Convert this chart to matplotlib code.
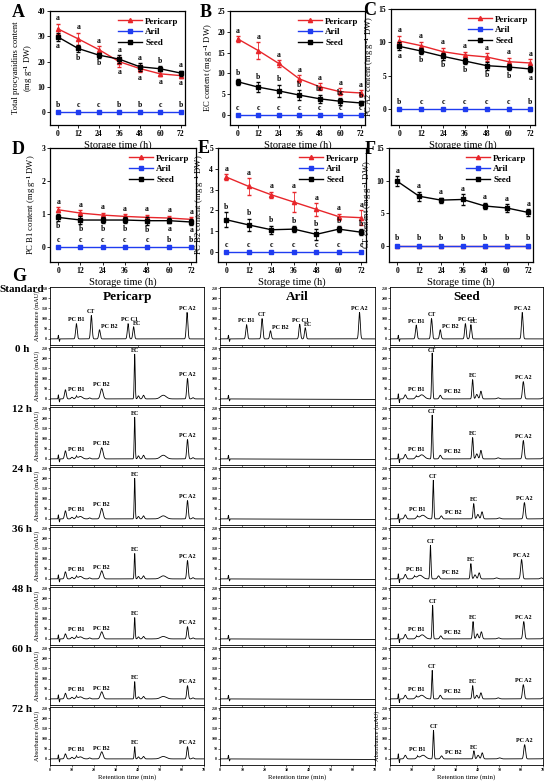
import numpy as np
import matplotlib
matplotlib.use('Agg')
import matplotlib.pyplot as plt

plt.rcParams['font.family'] = ['Liberation Serif', 'DejaVu Serif']
plt.rcParams['font.weight'] = 'bold'
plt.rcParams['mathtext.fontset'] = 'custom'
plt.rcParams['mathtext.rm'] = 'Liberation Serif:bold'
plt.rcParams['mathtext.it'] = 'Liberation Serif:italic:bold'
plt.rcParams['mathtext.bf'] = 'Liberation Serif:bold'

# ---------------- dati pannelli A-F ----------------
hours = [0, 12, 24, 36, 48, 60, 72]

tot_peri = [33.0, 29.0, 24.8, 20.0, 17.3, 15.2, 14.5]
tot_peri_err = [2.0, 2.5, 1.2, 2.0, 1.5, 1.0, 0.8]
tot_seed = [29.8, 25.2, 22.6, 21.0, 18.0, 17.2, 15.5]
tot_seed_err = [1.5, 1.5, 1.0, 1.5, 1.5, 1.0, 1.0]
tot_let_peri = ['a', 'a', 'a', 'a', 'a', 'a', 'a']
tot_let_seed = ['a', 'b', 'b', 'a', 'a', 'b', 'a']
tot_let_aril = ['b', 'c', 'c', 'b', 'b', 'c', 'b']

ec_peri = [18.3, 15.5, 12.4, 8.7, 6.8, 5.6, 5.3]
ec_peri_err = [0.7, 2.0, 0.8, 0.8, 0.8, 0.8, 0.7]
ec_seed = [8.0, 6.7, 5.8, 4.8, 3.9, 3.3, 2.9]
ec_seed_err = [0.7, 1.2, 1.5, 1.2, 1.0, 0.8, 0.5]
ec_let_peri = ['a'] * 7
ec_let_seed = ['b', 'b', 'b', 'b', 'bc', 'bc', 'b']
ec_let_aril = ['c'] * 7

a2_peri = [10.2, 9.5, 8.6, 8.1, 7.8, 7.1, 6.9]
a2_peri_err = [0.8, 0.6, 0.6, 0.5, 0.6, 0.6, 0.6]
a2_seed = [9.4, 8.7, 7.9, 7.2, 6.5, 6.3, 6.0]
a2_seed_err = [0.6, 0.5, 0.5, 0.5, 0.6, 0.5, 0.5]
a2_let_peri = ['a'] * 7
a2_let_seed = ['a', 'b', 'b', 'b', 'b', 'b', 'a']
a2_let_aril = ['b', 'c', 'c', 'c', 'c', 'c', 'b']

b1_peri = [1.13, 1.03, 0.97, 0.93, 0.90, 0.88, 0.84]
b1_peri_err = [0.07, 0.08, 0.07, 0.07, 0.08, 0.07, 0.06]
b1_seed = [0.90, 0.82, 0.82, 0.82, 0.80, 0.80, 0.76]
b1_seed_err = [0.10, 0.12, 0.10, 0.10, 0.12, 0.08, 0.08]
b1_let_peri = ['a'] * 7
b1_let_seed = ['b', 'b', 'b', 'b', 'b', 'a', 'a']
b1_let_aril = ['c', 'c', 'c', 'c', 'c', 'b', 'b']

b2_peri = [3.60, 3.15, 2.75, 2.40, 2.05, 1.70, 1.65]
b2_peri_err = [0.15, 0.40, 0.15, 0.50, 0.30, 0.15, 0.35]
b2_seed = [1.55, 1.30, 1.07, 1.10, 0.85, 1.10, 0.95]
b2_seed_err = [0.35, 0.30, 0.20, 0.15, 0.25, 0.15, 0.15]
b2_let_peri = ['a'] * 7
b2_let_seed = ['b'] * 7
b2_let_aril = ['c'] * 7

ct_peri = [0, 0, 0, 0, 0, 0, 0]
ct_peri_err = [0, 0, 0, 0, 0, 0, 0]
ct_seed = [9.9, 7.6, 7.0, 7.1, 6.1, 5.8, 5.1]
ct_seed_err = [0.8, 0.7, 0.4, 0.8, 0.5, 0.6, 0.5]
ct_let_peri = [''] * 7
ct_let_seed = ['a'] * 7
ct_let_aril = ['b'] * 7

aril_zero = [0, 0, 0, 0, 0, 0, 0]

# ---------------- dati cromatogrammi (G) ----------------
row_names = ['Standard', '0 h', '12 h', '24 h', '36 h', '48 h', '60 h', '72 h']

std_names = ['PC B1', 'CT', 'PC B2', 'PC C1', 'EC', 'PC A2']
std_peri_rt = [12.0, 18.8, 22.5, 35.5, 38.0, 62.3]
std_peri_h = [75, 115, 45, 75, 60, 130]
std_aril_rt = [12.0, 19.0, 22.8, 36.0, 38.5, 63.0]
std_aril_h = [70, 100, 40, 72, 55, 130]
std_seed_rt = [12.0, 19.0, 23.0, 34.5, 37.0, 60.5]
std_seed_h = [68, 100, 45, 75, 70, 130]

peri_rt = [3.8, 4.3, 7.0, 10.0, 12.0, 13.8, 18.0, 23.5, 38.5, 40.2, 42.5, 51.5, 62.5, 65.0]
peri_w = [0.12, 0.12, 0.4, 0.4, 0.4, 0.9, 0.4, 0.6, 0.22, 0.35, 0.4, 1.3, 0.35, 0.4]
peri_h_0 = [20, -15, 45, 8, 10, 12, 5, 50, 220, 15, 18, 18, 100, 6]
peri_h_12 = [20, -15, 40, 8, 10, 12, 5, 55, 205, 15, 18, 18, 95, 6]
peri_h_24 = [20, -15, 40, 8, 10, 12, 5, 52, 200, 12, 15, 15, 90, 6]
peri_h_36 = [20, -15, 35, 8, 10, 12, 5, 40, 125, 12, 15, 15, 90, 6]
peri_h_48 = [20, -15, 25, 8, 10, 10, 5, 35, 105, 10, 12, 12, 60, 5]
peri_h_60 = [20, -15, 28, 8, 10, 10, 5, 35, 85, 10, 12, 12, 65, 5]
peri_h_72 = [20, -15, 25, 8, 10, 10, 5, 35, 60, 10, 12, 12, 60, 5]
peri_lab = {'PC B1': 4, 'PC B2': 7, 'EC': 8, 'PC A2': 12}

aril_rt = [3.8, 4.3]
aril_w = [0.12, 0.12]
aril_h = [18, -10]

seed_rt = [3.8, 4.3, 7.0, 12.0, 14.5, 19.3, 23.0, 37.8, 39.7, 41.6, 49.5, 61.0, 70.0]
seed_w = [0.12, 0.12, 0.45, 0.5, 1.2, 0.25, 0.45, 0.3, 0.45, 0.4, 0.6, 0.4, 0.5]
seed_h_0 = [25, -18, 20, 10, 20, 225, 18, 95, 22, 38, 5, 85, 5]
seed_h_12 = [25, -18, 22, 10, 20, 215, 18, 105, 25, 42, 5, 90, 5]
seed_h_24 = [25, -18, 20, 10, 18, 190, 15, 75, 22, 35, 5, 80, 5]
seed_h_36 = [25, -18, 22, 10, 18, 165, 15, 75, 20, 30, 5, 95, 5]
seed_h_48 = [25, -18, 22, 10, 20, 165, 15, 85, 25, 35, 5, 85, 5]
seed_h_60 = [25, -18, 18, 10, 18, 140, 18, 65, 18, 30, 5, 70, 5]
seed_h_72 = [25, -18, 18, 10, 18, 140, 15, 40, 18, 30, 5, 70, 5]
seed_shift = [0.0, 0.0, 0.5, -0.8, 0.2, 0.0, 0.6]
seed_lab = {'PC B1': 3, 'CT': 5, 'PC B2': 6, 'EC': 7, 'PC A2': 11}

W, H = 550, 782
fig = plt.figure(figsize=(W / 100, H / 100), dpi=100)


def px_axes(l, t, r, b):
    return fig.add_axes([l / W, 1 - b / H, (r - l) / W, (b - t) / H])


# ---------------- pannelli A-F ----------------
# (lettera, pos. lettera px, box px, ylim, yticks, ylabel, dati..., lettere del seme sopra?)
pannelli = [
    ('A', (12, 4), (50, 11, 185, 125), (-5, 40), [0, 10, 20, 30, 40],
     'Total procyanidins content\n(mg g$^{-1}$ DW)',
     tot_peri, tot_peri_err, tot_seed, tot_seed_err, tot_let_peri, tot_let_seed, tot_let_aril, False),
    ('B', (200, 4), (230, 11, 365, 125), (-2.4, 25), [0, 5, 10, 15, 20, 25],
     'EC content (mg g$^{-1}$ DW)',
     ec_peri, ec_peri_err, ec_seed, ec_seed_err, ec_let_peri, ec_let_seed, ec_let_aril, True),
    ('C', (363, 2), (391, 9, 535, 125), (-2.4, 15), [0, 5, 10, 15],
     'PC A2 content (mg g$^{-1}$ DW)',
     a2_peri, a2_peri_err, a2_seed, a2_seed_err, a2_let_peri, a2_let_seed, a2_let_aril, False),
    ('D', (12, 141), (50, 148, 196, 262), (-0.45, 3), [0, 1, 2, 3],
     'PC B1 content (mg g$^{-1}$ DW)',
     b1_peri, b1_peri_err, b1_seed, b1_seed_err, b1_let_peri, b1_let_seed, b1_let_aril, False),
    ('E', (198, 140), (218, 148, 366, 262), (-0.48, 5), [0, 1, 2, 3, 4, 5],
     'PC B2 content (mg g$^{-1}$ DW)',
     b2_peri, b2_peri_err, b2_seed, b2_seed_err, b2_let_peri, b2_let_seed, b2_let_aril, True),
    ('F', (365, 141), (389, 148, 533, 262), (-2.5, 15), [0, 5, 10, 15],
     'CT content (mg g$^{-1}$ DW)',
     ct_peri, ct_peri_err, ct_seed, ct_seed_err, ct_let_peri, ct_let_seed, ct_let_aril, True),
]

RED = '#e8262b'
BLUE = '#1f3cf0'

for (lett, lpos, box, ylim, yt, ylab, pv, pe, sv, se, lp, ls, la, seed_up) in pannelli:
    ax = px_axes(*box)
    ax.errorbar(hours, pv, yerr=pe, fmt='none', ecolor=RED, elinewidth=0.6, capsize=1.5, zorder=3)
    ax.plot(hours, pv, color=RED, marker='^', ms=3, lw=1.0, label='Pericarp', zorder=3)
    ax.plot(hours, aril_zero, color=BLUE, marker='s', ms=2.3, lw=1.0, label='Aril', zorder=4)
    ax.errorbar(hours, sv, yerr=se, fmt='none', ecolor='black', elinewidth=0.6, capsize=1.5, zorder=5)
    ax.plot(hours, sv, color='black', marker='s', ms=2.3, lw=1.0, label='Seed', zorder=5)
    ax.set_xlim(-4.5, 74.5)
    ax.set_ylim(*ylim)
    ax.set_xticks(hours)
    ax.set_yticks(yt)
    ax.tick_params(labelsize=5.5, length=2, width=0.6, pad=1.5)
    for s in ax.spines.values():
        s.set_linewidth(0.9)
    span = ylim[1] - ylim[0]
    off = 0.012 * span
    for i, h in enumerate(hours):
        if seed_up:
            if lett != 'F':
                ax.text(h, pv[i] + pe[i] + off, lp[i], ha='center', va='bottom', fontsize=5.5)
            ax.text(h, sv[i] + se[i] + off, ls[i], ha='center', va='bottom', fontsize=5.5)
        elif sv[i] > pv[i]:
            # seme sopra il pericarpo: lettera del pericarpo sotto
            ax.text(h, sv[i] + se[i] + off, ls[i], ha='center', va='bottom', fontsize=5.5)
            ax.text(h, pv[i] - pe[i] - off, lp[i], ha='center', va='top', fontsize=5.5)
        else:
            ax.text(h, pv[i] + pe[i] + off, lp[i], ha='center', va='bottom', fontsize=5.5)
            ax.text(h, sv[i] - se[i] - off, ls[i], ha='center', va='top', fontsize=5.5)
        ax.text(h, 0.03 * span, la[i], ha='center', va='bottom', fontsize=5.5)
    ax.set_xlabel('Storage time (h)', fontsize=7.5, labelpad=2)
    ax.set_ylabel(ylab, fontsize=6.2, labelpad=2)
    ax.legend(loc='upper right', frameon=False, fontsize=6.5, handlelength=2.6,
              handletextpad=0.4, labelspacing=0.25, borderaxespad=0.3)
    fig.text(lpos[0] / W, 1 - lpos[1] / H, lett, fontsize=13,
             fontweight='bold', ha='left', va='top')

# ---------------- pannello G ----------------
fig.text(12 / W, 1 - 268 / H, 'G', fontsize=13, fontweight='bold', ha='left', va='top')

x = np.linspace(0, 70, 2000)


def traccia(rts, hs, ws, shift=0.0):
    y = np.zeros_like(x)
    for rt, h, w in zip(rts, hs, ws):
        c = rt + shift if rt > 10 else rt
        y += h * np.exp(-0.5 * ((x - c) / w) ** 2)
    return y


col_box = [(50, 204), (220, 375), (390, 543)]
col_title = ['Pericarp', 'Aril', 'Seed']
std_data = [(std_peri_rt, std_peri_h), (std_aril_rt, std_aril_h), (std_seed_rt, std_seed_h)]
peri_rows = [peri_h_0, peri_h_12, peri_h_24, peri_h_36, peri_h_48, peri_h_60, peri_h_72]
seed_rows = [seed_h_0, seed_h_12, seed_h_24, seed_h_36, seed_h_48, seed_h_60, seed_h_72]

for r, nome in enumerate(row_names):
    top = 287 + 60 * r
    bot = top + 58
    fig.text(22 / W, 1 - (top - 2) / H, nome, fontsize=8, fontweight='bold',
             ha='center', va='top')
    for c in range(3):
        ax = px_axes(col_box[c][0], top, col_box[c][1], bot)
        if r == 0:
            rts, hs = std_data[c]
            y = traccia([3.8, 4.3] + rts, [18, -12] + hs, [0.12, 0.12] + [0.35] * len(rts))
            for n, rt, h in zip(std_names, rts, hs):
                if n == 'EC':
                    ax.text(rt - 0.5, h + 1, n, fontsize=4.3, ha='left', va='bottom')
                elif n == 'PC B2':
                    ax.text(rt + 0.8, h + 4, n, fontsize=4.3, ha='left', va='bottom')
                elif n == 'PC C1':
                    ax.text(rt + 0.5, h + 8, n, fontsize=4.3, ha='center', va='bottom')
                else:
                    ax.text(rt, h + 6, n, fontsize=4.3, ha='center', va='bottom')
            ax.text(0.5, 0.93, col_title[c], transform=ax.transAxes, fontsize=9.5,
                    fontweight='bold', ha='center', va='top')
        elif c == 0:
            hs = peri_rows[r - 1]
            y = traccia(peri_rt, hs, peri_w)
            for n, k in peri_lab.items():
                if n == 'PC B1':
                    ax.annotate(n, xy=(peri_rt[k], hs[k] + 4), xytext=(peri_rt[k], hs[k] + 22),
                                fontsize=4.3, ha='center', va='bottom',
                                arrowprops=dict(arrowstyle='-', lw=0.5))
                else:
                    ax.text(peri_rt[k], min(hs[k] + 6, 224), n, fontsize=4.3,
                            ha='center', va='bottom')
        elif c == 1:
            y = traccia(aril_rt, aril_h, aril_w) - 0.04 * x
        else:
            hs = seed_rows[r - 1]
            sh = seed_shift[r - 1]
            y = traccia(seed_rt, hs, seed_w, sh)
            for n, k in seed_lab.items():
                xp = seed_rt[k] + sh
                if n == 'PC B1':
                    ax.annotate(n, xy=(xp, hs[k] + 4), xytext=(xp, hs[k] + 22),
                                fontsize=4.3, ha='center', va='bottom',
                                arrowprops=dict(arrowstyle='-', lw=0.5))
                elif n == 'PC B2':
                    ax.text(xp + 1.5, hs[k] + 6, n, fontsize=4.3, ha='left', va='bottom')
                else:
                    ax.text(xp, min(hs[k] + 6, 224), n, fontsize=4.3, ha='center', va='bottom')
        ax.plot(x, y, color='black', lw=0.6)
        ax.set_xlim(0, 70)
        ax.set_ylim(-30, 255)
        ax.set_xticks(range(0, 71, 10))
        ax.set_yticks(range(0, 251, 50))
        ax.tick_params(labelsize=2.8, length=1.2, width=0.4, pad=0.8)
        for s in ax.spines.values():
            s.set_linewidth(0.6)
        if c == 0 or (c == 2 and r == 7):
            ax.set_ylabel('Absorbance (mAU)', fontsize=4.6, labelpad=1)
        if r == 7:
            ax.set_xlabel('Retention time (min)', fontsize=5, labelpad=1.5)

fig.savefig('out.png', dpi=100)
